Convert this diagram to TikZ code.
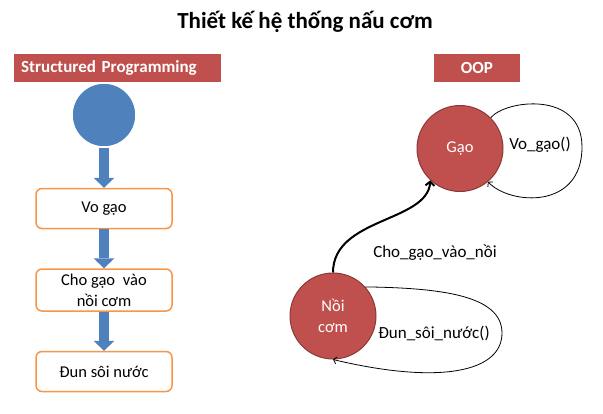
\documentclass[tikz,border=0pt]{standalone}
\usepackage{fontspec}
\setmainfont{Carlito}
\usepackage{xcolor}
\usepackage{tikz}
\definecolor{bannerred}{HTML}{C0504D}
\definecolor{objborder}{HTML}{8C3836}
\definecolor{flowblue}{HTML}{4F81BD}
\definecolor{boxorange}{HTML}{F79646}
\usetikzlibrary{
    positioning, % relative placement
    arrows.meta % arrow tips
}

\begin{document}
\begin{tikzpicture}[
    x=1pt, y=1pt,
    font=\fontsize{17}{20}\selectfont,
    node distance=39pt,
    banner/.style={
        fill=bannerred,
        text=white,
        inner sep=0pt,
        minimum height=28pt,
        font=\bfseries\fontsize{17}{20}\selectfont
    },
    startnode/.style={
        circle,
        fill=flowblue,
        draw=white,
        line width=1.5pt,
        minimum size=64pt
    },
    flowbox/.style={
        draw=boxorange,
        fill=white,
        line width=1.5pt,
        rounded corners=6pt,
        align=center,
        minimum width=136pt,
        minimum height=40pt,
        inner sep=2pt,
        font=\fontsize{16.5}{21}\selectfont
    },
    blockarrow/.style={
        draw=flowblue,
        line width=10pt,
        -{Triangle[length=10pt,width=21pt,line width=0pt]}
    },
    object/.style={
        circle,
        fill=bannerred,
        draw=objborder,
        line width=1pt,
        minimum size=86pt,
        inner sep=0pt,
        text=white,
        align=center,
        font=\fontsize{16.5}{21}\selectfont
    },
    message/.style={
        draw=black,
        line width=0.8pt,
        -{Straight Barb[length=3pt,width=7pt]}
    },
    call/.style={
        draw=black,
        line width=2pt,
        -{Straight Barb[length=4pt,width=9pt]}
    }
]
\useasboundingbox (0,0) rectangle (603,-413);

% Title
\node[font=\bfseries\fontsize{23}{27}\selectfont] (title) at (305,-22)
{Thiết kế hệ thống nấu cơm};

% Banners
\node[banner, anchor=west, text width=193pt, inner xsep=7pt, align=left] (structured) at (14,-68)
{Structured Programming};
\node[banner, minimum width=86pt] (oop) at (477,-68)
{OOP};

% Structured flow
\node[startnode] (start) at (104,-115) {};
\node[flowbox, below=40pt of start] (vogao)
{Vo gạo};
\node[flowbox, minimum height=42pt, below=of vogao] (chogao)
{Cho gạo\hspace{0.25em} vào\\nồi cơm};
\node[flowbox, below=of chogao] (dunsoi)
{Đun sôi nước};

\draw[blockarrow] (start.south) -- (vogao.north);
\draw[blockarrow] (vogao.south) -- (chogao.north);
\draw[blockarrow] (chogao.south) -- (dunsoi.north);

% Objects
\node[object] (gao) at (460,-148.5) {Gạo};
\node[object] (noi) at (333,-316) {Nồi\\cơm};

\coordinate (gaoloop) at (582,-147);
\coordinate (noiloop) at (502,-333);

% Messages
\draw[message] (gao.45) .. controls (505,-100) and (582,-90) .. (gaoloop)
    .. controls (582,-210) and (510,-205) .. (gao.-50);
\draw[call] (noi.north) .. controls +(0,55) and +(-3,-42) .. (gao.227);
\draw[message] (noi.42) .. controls (440,-288) and (502,-295) .. (noiloop)
    .. controls (502,-372) and (440,-385) .. (noi.south);

% Message labels
\node (vogaolbl) at (540,-145) {Vo\_gạo()};
\node (cholbl) at (435,-253) {Cho\_gạo\_vào\_nồi};
\node (dunlbl) at (434,-333) {Đun\_sôi\_nước()};

\end{tikzpicture}
\end{document}
